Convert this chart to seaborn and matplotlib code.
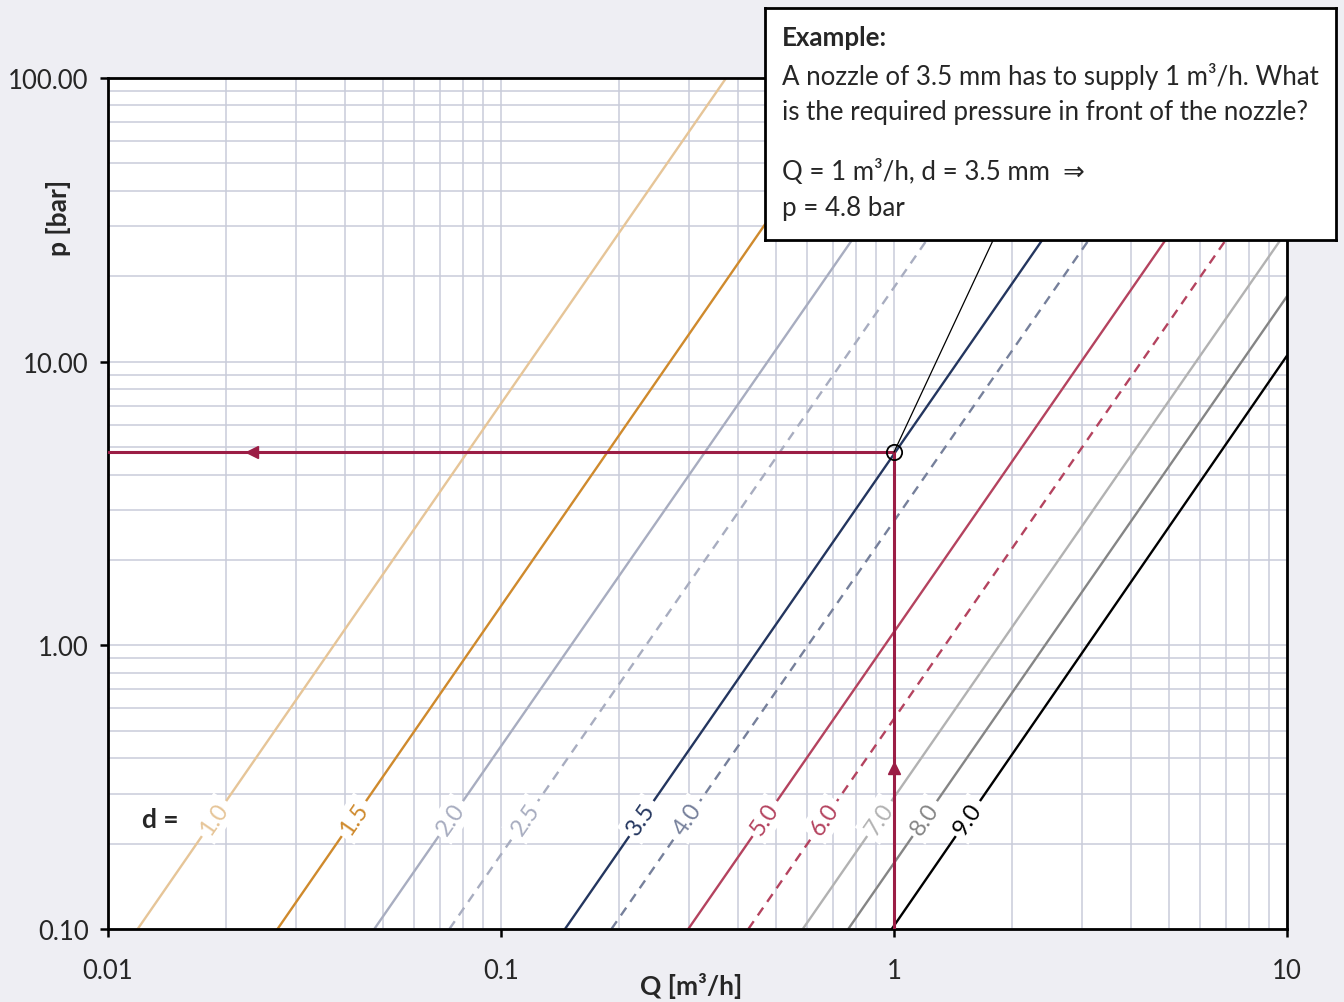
import numpy as np
import pandas as pd
import matplotlib
matplotlib.use("Agg")
from matplotlib import pyplot as plt
from matplotlib.ticker import NullFormatter
import seaborn as sns

# nozzle diameters [mm] and the end points of each characteristic line
diameters = ['1.0', '1.5', '2.0', '2.5', '3.5', '4.0', '5.0', '6.0', '7.0', '8.0', '9.0']
q_bottom = [0.0119, 0.0270, 0.0476, 0.0739, 0.1455, 0.191, 0.2996, 0.426, 0.586, 0.765, 0.987]
p_bottom = [0.1, 0.1, 0.1, 0.1, 0.1, 0.1, 0.1, 0.1, 0.1, 0.1, 0.1]
q_top = [0.374, 0.85, 1.51, 2.34, 4.6, 6.04, 9.47, 10.0, 10.0, 10.0, 10.0]
p_top = [100, 100, 100, 100, 100, 100, 100, 55.0, 29.0, 17.0, 10.5]

line_colors = ['#e6c598', '#cf8a2d', '#a8adc0', '#a8adc0', '#24365f', '#76809b',
               '#b4435f', '#b4435f', '#b2b2b2', '#858585', '#000000']
dashed = ['2.5', '4.0', '6.0']

x_ticks = [0.01, 0.1, 1, 10]
x_tick_labels = ['0.01', '0.1', '1', '10']
y_ticks = [0.1, 1, 10, 100]
y_tick_labels = ['0.10', '1.00', '10.00', '100.00']

# worked example
q_example = 1.0
p_example = 4.8

rows = []
for d, qb, pb, qt, pt in zip(diameters, q_bottom, p_bottom, q_top, p_top):
    rows.append({'d': d, 'Q': qb, 'p': pb})
    rows.append({'d': d, 'Q': qt, 'p': pt})
df = pd.DataFrame(rows)

sns.set_theme(style="white")
plt.rcParams['font.family'] = ['Lato', 'DejaVu Sans']

bg = '#eeeef3'
red = '#9b1d45'
grid_col = '#c9ccda'

fig = plt.figure(figsize=(13.44, 10.03), dpi=100, facecolor=bg)
ax = fig.add_axes([108 / 1344, 1 - 930 / 1003, 1179 / 1344, 851 / 1003])
ax.set_facecolor('white')
ax.set(xscale='log', yscale='log')
ax.set_xlim(0.01, 10)
ax.set_ylim(0.1, 100)

ax.grid(True, which='both', color=grid_col, lw=1.1, zorder=0)
ax.set_axisbelow(True)

palette = dict(zip(diameters, line_colors))
dash_map = {d: ((4, 3) if d in dashed else '') for d in diameters}
sns.lineplot(data=df, x='Q', y='p', hue='d', style='d', palette=palette,
             dashes=dash_map, linewidth=1.7, legend=False, ax=ax,
             sort=False, estimator=None)

ax.set_xlim(0.01, 10)
ax.set_ylim(0.1, 100)
ax.set_xticks(x_ticks)
ax.set_xticklabels(x_tick_labels)
ax.set_yticks(y_ticks)
ax.set_yticklabels(y_tick_labels)
ax.xaxis.set_minor_formatter(NullFormatter())
ax.yaxis.set_minor_formatter(NullFormatter())
ax.tick_params(which='major', direction='out', length=6, width=1.8, color='black',
               labelsize=18.5, left=True, bottom=True, top=False, right=False)
ax.tick_params(axis='x', pad=15)
ax.tick_params(axis='y', pad=8)
ax.tick_params(which='minor', length=0)
for s in ax.spines.values():
    s.set_visible(True)
    s.set_color('black')
    s.set_linewidth(2)

# labels on the lines
p_lab = 0.245
for d, qb, pb, qt, pt, c in zip(diameters, q_bottom, p_bottom, q_top, p_top, line_colors):
    t = (np.log10(p_lab) - np.log10(pb)) / (np.log10(pt) - np.log10(pb))
    ql = 10 ** (np.log10(qb) + t * (np.log10(qt) - np.log10(qb)))
    (x0, y0), (x1, y1) = ax.transData.transform([(qb, pb), (qt, pt)])
    ang = np.degrees(np.arctan2(y1 - y0, x1 - x0))
    ax.text(ql, p_lab, d, color=c, fontsize=17, rotation=ang, rotation_mode='anchor',
            ha='center', va='center', zorder=5,
            bbox=dict(boxstyle='square,pad=0.2', fc='white', ec='none'))
ax.text(0.029, 0.129, 'd =', transform=ax.transAxes, fontsize=19, fontweight='bold',
        ha='left', va='center')

# example construction
ax.plot([q_example, q_example], [0.1, p_example], color=red, lw=2.2, zorder=6)
ax.plot([0.01, q_example], [p_example, p_example], color=red, lw=2.2, zorder=6)
ax.plot([0.0232], [p_example], marker='<', ms=9, color=red, zorder=7)
ax.plot([q_example], [0.37], marker='^', ms=9, color=red, zorder=7)
ax.plot([q_example, 1.787], [p_example, 26.8], color='black', lw=0.9, zorder=6)
ax.plot([q_example], [p_example], marker='o', ms=11, mfc='none', mec='black', mew=1.3, zorder=8)

ax.set_xlabel('Q [m³/h]', fontsize=19, fontweight='bold')
ax.xaxis.set_label_coords(0.495, -0.050)
ax.set_ylabel('p [bar]', fontsize=19, fontweight='bold')
ax.yaxis.set_label_coords(-0.031, 0.837)

# example box
bax = fig.add_axes([765 / 1344, 1 - 241 / 1003, 571 / 1344, 232 / 1003])
bax.set_facecolor('white')
bax.set_xticks([])
bax.set_yticks([])
for s in bax.spines.values():
    s.set_visible(True)
    s.set_color('black')
    s.set_linewidth(2)
tx = 0.030
fs = 18.6
bax.text(tx, 0.875, 'Example:', fontsize=fs, fontweight='bold', va='center', ha='left')
bax.text(tx, 0.711, 'A nozzle of 3.5 mm has to supply 1 m³/h. What', fontsize=fs, va='center', ha='left')
bax.text(tx, 0.556, 'is the required pressure in front of the nozzle?', fontsize=fs, va='center', ha='left')
bax.text(tx, 0.297, 'Q = 1 m³/h, d = 3.5 mm  ⇒', fontsize=fs, va='center', ha='left')
bax.text(tx, 0.142, 'p = 4.8 bar', fontsize=fs, va='center', ha='left')

plt.savefig('out.png', dpi=100, facecolor=bg)
